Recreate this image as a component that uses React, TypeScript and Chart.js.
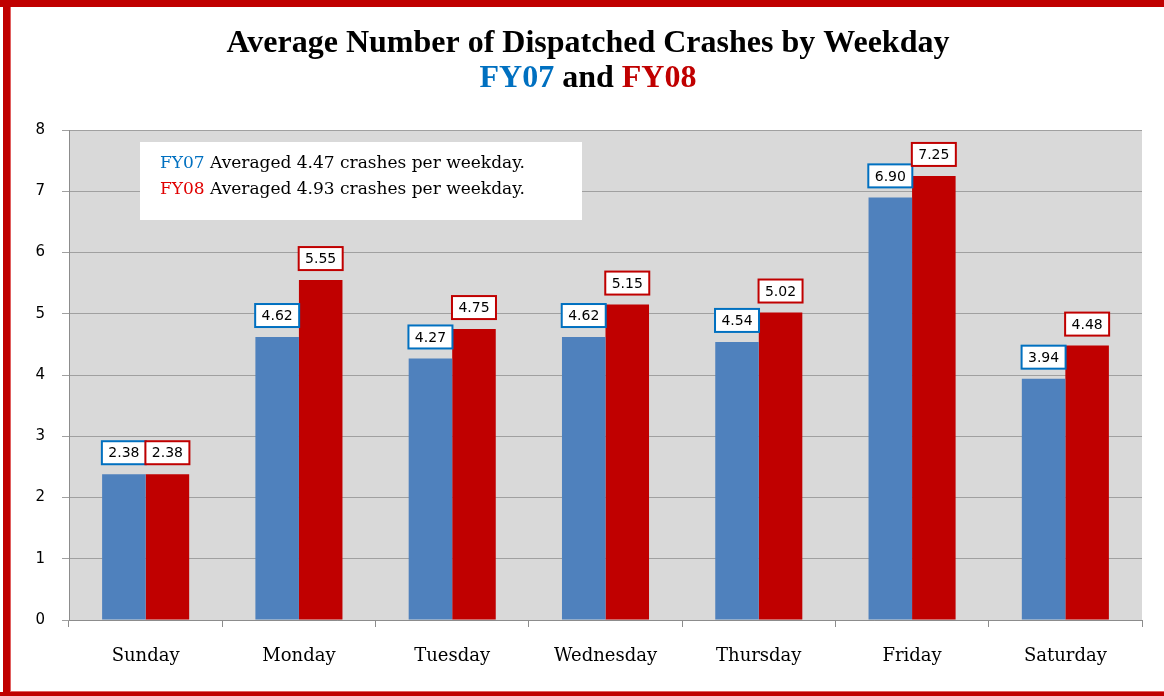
import React, { useEffect, useRef } from "react";
import { Chart, registerables } from "chart.js";

Chart.register(...registerables);

const days = ["Sunday", "Monday", "Tuesday", "Wednesday", "Thursday", "Friday", "Saturday"];
const fy07 = [2.38, 4.62, 4.27, 4.62, 4.54, 6.9, 3.94];
const fy08 = [2.38, 5.55, 4.75, 5.15, 5.02, 7.25, 4.48];
const titleLine1 = "Average Number of Dispatched Crashes by Weekday";
const noteLines = [
  ["FY07", " Averaged 4.47 crashes per weekday."],
  ["FY08", " Averaged 4.93 crashes per weekday."],
];

const BLUE_BAR = "#4f81bd";
const RED_BAR = "#c00000";
const BLUE_TXT = "#0070c0";
const RED_TXT = "#c00000";

const decoPlugin = {
  id: "deco",
  beforeDraw(chart: any) {
    const { ctx, width, height, chartArea } = chart;
    ctx.save();
    ctx.fillStyle = "#ffffff";
    ctx.fillRect(0, 0, width, height);
    ctx.fillStyle = "#d9d9d9";
    ctx.fillRect(chartArea.left, chartArea.top, chartArea.right - chartArea.left, chartArea.bottom - chartArea.top);
    // red frame
    ctx.fillStyle = "#c00000";
    ctx.fillRect(0, 0, width, 7);
    ctx.fillRect(3, 0, 7, height);
    ctx.fillRect(0, height - 4, width, 4);
    ctx.fillStyle = "#e06060";
    ctx.fillRect(10, 7, 1, height - 11);
    ctx.fillRect(10, height - 5, width - 10, 1);
    // title
    const cx = 588;
    ctx.textAlign = "center";
    ctx.textBaseline = "middle";
    ctx.fillStyle = "#000";
    ctx.font = "bold 32px 'Liberation Serif'";
    ctx.fillText(titleLine1, cx, 44);
    const p1 = "FY07", p2 = " and ", p3 = "FY08";
    const w1 = ctx.measureText(p1).width, w2 = ctx.measureText(p2).width, w3 = ctx.measureText(p3).width;
    let x = cx - (w1 + w2 + w3) / 2;
    ctx.textAlign = "left";
    ctx.fillStyle = BLUE_TXT;
    ctx.fillText(p1, x, 79);
    x += w1;
    ctx.fillStyle = "#000";
    ctx.fillText(p2, x, 79);
    x += w2;
    ctx.fillStyle = RED_TXT;
    ctx.fillText(p3, x, 79);
    ctx.restore();
  },
  afterDatasetsDraw(chart: any) {
    const { ctx } = chart;
    ctx.save();
    ctx.font = "14px 'DejaVu Sans'";
    ctx.textAlign = "center";
    ctx.textBaseline = "middle";
    chart.data.datasets.forEach((ds: any, di: number) => {
      const meta = chart.getDatasetMeta(di);
      const col = di === 0 ? BLUE_TXT : RED_TXT;
      meta.data.forEach((bar: any, i: number) => {
        const v = ds.data[i] as number;
        const bw = 44, bh = 23;
        const bx = bar.x - bw / 2;
        const by = bar.y - 10 - bh;
        ctx.fillStyle = "#fff";
        ctx.fillRect(bx, by, bw, bh);
        ctx.strokeStyle = col;
        ctx.lineWidth = 2;
        ctx.strokeRect(bx, by, bw, bh);
        ctx.fillStyle = "#000";
        ctx.fillText(v.toFixed(2), bar.x, by + bh / 2 + 1);
      });
    });
    // note box
    ctx.fillStyle = "#fff";
    ctx.fillRect(140, 142, 442, 78);
    ctx.font = "17px 'DejaVu Serif'";
    ctx.textAlign = "left";
    noteLines.forEach((ln, i) => {
      const y = 164 + i * 26;
      ctx.fillStyle = i === 0 ? BLUE_TXT : "#e00000";
      ctx.fillText(ln[0], 160, y);
      const w = ctx.measureText(ln[0]).width;
      ctx.fillStyle = "#000";
      ctx.fillText(ln[1], 160 + w, y);
    });
    ctx.restore();
  },
};

export default function App() {
  const ref = useRef<HTMLCanvasElement>(null);
  useEffect(() => {
    document.body.style.margin = "0";
    const chart = new Chart(ref.current!, {
      type: "bar",
      data: {
        labels: days,
        datasets: [
          { label: "FY07", data: fy07, backgroundColor: BLUE_BAR, borderWidth: 0 },
          { label: "FY08", data: fy08, backgroundColor: RED_BAR, borderWidth: 0 },
        ],
      },
      options: {
        responsive: false,
        animation: false,
        layout: { padding: { top: 130, right: 22, left: 0, bottom: 0 } },
        datasets: { bar: { categoryPercentage: 0.568, barPercentage: 1 } },
        plugins: { legend: { display: false }, tooltip: { enabled: false }, title: { display: false } },
        scales: {
          x: {
            grid: { drawOnChartArea: false, tickLength: 7, color: "#8c8c8c" },
            border: { color: "#8c8c8c" },
            ticks: { font: { family: "'DejaVu Serif'", size: 18 }, color: "#000", padding: 19 },
            afterFit: (s: any) => { s.height = 76; },
          },
          y: {
            min: 0,
            max: 8,
            ticks: { stepSize: 1, font: { family: "'DejaVu Sans'", size: 15 }, color: "#000", padding: 17 },
            grid: { color: "#a0a0a0", tickLength: 7 },
            border: { color: "#8c8c8c" },
            afterFit: (s: any) => { s.width = 69; },
          },
        },
      } as any,
      plugins: [decoPlugin],
    });
    return () => chart.destroy();
  }, []);
  return <canvas ref={ref} width={1164} height={696} style={{ display: "block" }} />;
}
